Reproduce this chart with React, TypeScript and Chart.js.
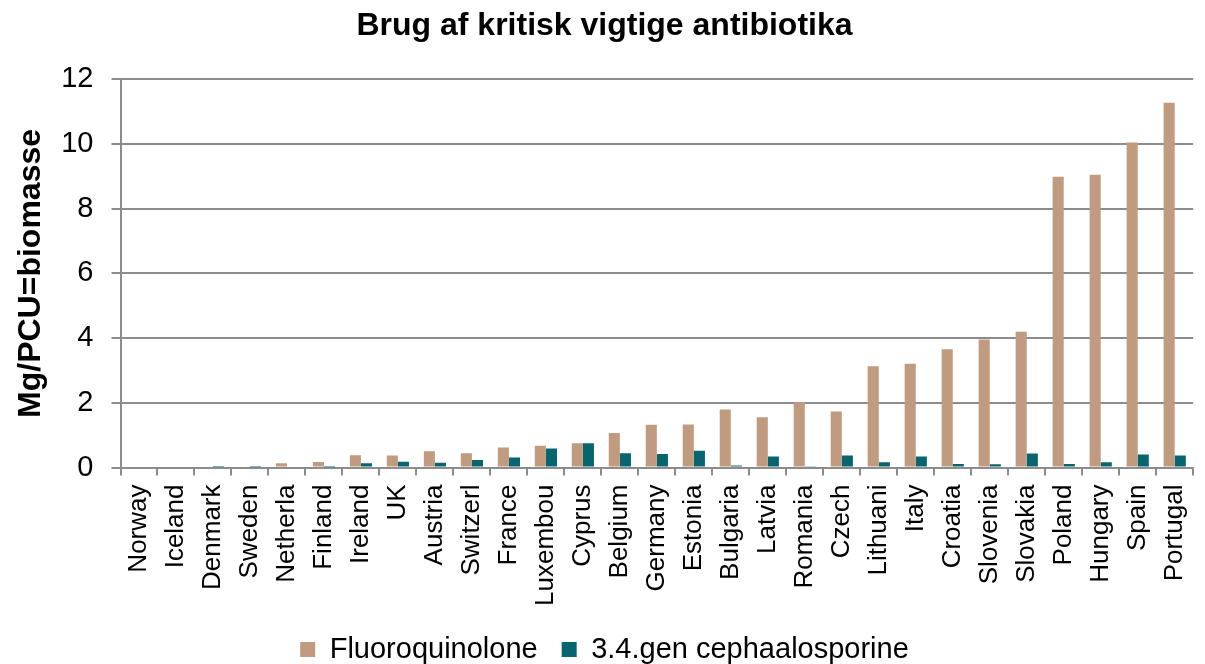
import { useEffect, useRef } from "react";
import { Chart, registerables } from "chart.js";
Chart.register(...registerables);

const categories = [
  "Norway", "Iceland", "Denmark", "Sweden", "Netherla", "Finland", "Ireland", "UK", "Austria", "Switzerl",
  "France", "Luxembou", "Cyprus", "Belgium", "Germany", "Estonia", "Bulgaria", "Latvia", "Romania", "Czech",
  "Lithuani", "Italy", "Croatia", "Slovenia", "Slovakia", "Poland", "Hungary", "Spain", "Portugal",
];

const fluoroquinolone = [
  0, 0, 0, 0.03, 0.13, 0.17, 0.38, 0.37, 0.5, 0.44,
  0.62, 0.67, 0.75, 1.07, 1.32, 1.33, 1.79, 1.55, 2.02, 1.73,
  3.13, 3.21, 3.66, 3.96, 4.2, 8.99, 9.05, 10.05, 11.28,
];

const cephalosporine = [
  0, 0, 0.01, 0.01, 0, 0.01, 0.13, 0.18, 0.15, 0.23,
  0.31, 0.59, 0.75, 0.44, 0.42, 0.52, 0.06, 0.34, 0.02, 0.37,
  0.16, 0.34, 0.11, 0.1, 0.43, 0.11, 0.16, 0.4, 0.37,
];

const seriesNames = ["Fluoroquinolone", "3.4.gen cephaalosporine"];
const yMin = 0;
const yMax = 12;
const yStep = 2;

const FONT = "'Liberation Sans', Arial, sans-serif";
const GRID = "#8c8c8c";

export default function App() {
  const ref = useRef<HTMLCanvasElement>(null);
  useEffect(() => {
    const chart = new Chart(ref.current!, {
      type: "bar",
      data: {
        labels: categories,
        datasets: [
          {
            label: seriesNames[0],
            data: fluoroquinolone,
            backgroundColor: "#C09B7F",
            categoryPercentage: 0.6,
            barPercentage: 1,
          },
          {
            label: seriesNames[1],
            data: cephalosporine,
            backgroundColor: "#06656E",
            categoryPercentage: 0.6,
            barPercentage: 1,
          },
        ],
      },
      options: {
        responsive: false,
        animation: false,
        devicePixelRatio: 1,
        layout: { padding: { left: 0, right: 6, top: 0, bottom: 0 } },
        plugins: {
          title: {
            display: true,
            text: "Brug af kritisk vigtige antibiotika",
            color: "#000",
            font: { family: FONT, size: 32, weight: "bold", lineHeight: 1.2 },
            padding: { top: 7, bottom: 34 },
          },
          legend: {
            position: "bottom",
            labels: {
              boxWidth: 15,
              boxHeight: 15,
              padding: 24,
              color: "#000",
              font: { family: FONT, size: 29 },
            },
          },
          tooltip: { enabled: false },
        },
        scales: {
          x: {
            grid: {
              display: true,
              drawOnChartArea: false,
              drawTicks: true,
              tickLength: 8,
              color: GRID,
              lineWidth: 2,
              offset: true,
            },
            border: { display: true, color: GRID, width: 2 },
            ticks: {
              minRotation: 90,
              maxRotation: 90,
              autoSkip: false,
              padding: 9,
              color: "#000",
              font: { family: FONT, size: 26 },
            },
            afterFit: (s: any) => {
              s.height = 674 - 63 - 467.5;
            },
          },
          y: {
            min: yMin,
            max: yMax,
            ticks: {
              stepSize: yStep,
              padding: 18,
              color: "#000",
              font: { family: FONT, size: 29 },
            },
            grid: { color: GRID, lineWidth: 2, tickLength: 9 },
            border: { display: true, color: GRID, width: 2 },
            title: {
              display: true,
              text: "Mg/PCU=biomasse",
              color: "#000",
              font: { family: FONT, size: 32, weight: "bold", lineHeight: 1.2 },
              padding: { top: 12, bottom: 0 },
            },
            afterFit: (s: any) => {
              s.width = 120.5;
            },
          },
        },
      },
    } as any);
    return () => chart.destroy();
  }, []);
  return (
    <div
      style={{
        position: "absolute",
        left: 0,
        top: 0,
        width: 1205,
        height: 664,
        overflow: "hidden",
        background: "#fff",
      }}
    >
      <canvas ref={ref} width={1215} height={674} style={{ display: "block" }} />
    </div>
  );
}
